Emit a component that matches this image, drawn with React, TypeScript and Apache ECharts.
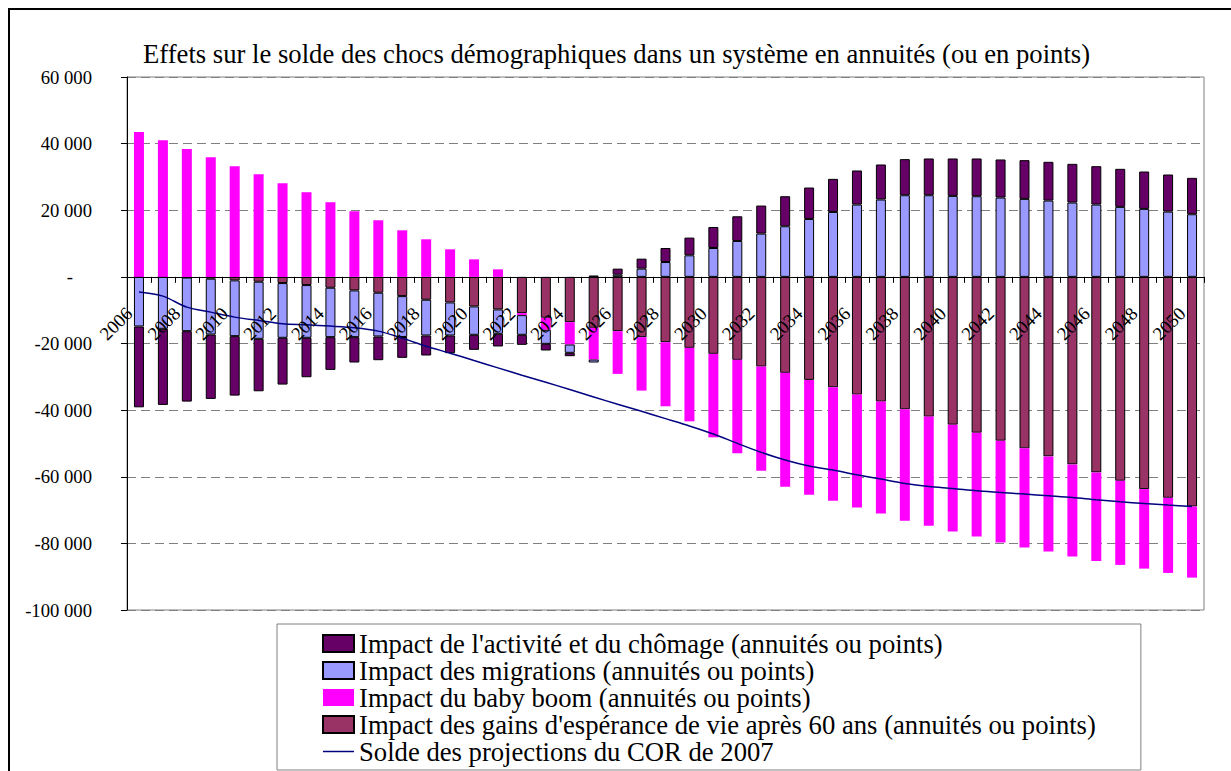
import React, { useEffect, useRef } from 'react';
import * as echarts from 'echarts';

const years = [
  '2006', '2007', '2008', '2009', '2010', '2011', '2012', '2013', '2014', '2015',
  '2016', '2017', '2018', '2019', '2020', '2021', '2022', '2023', '2024', '2025',
  '2026', '2027', '2028', '2029', '2030', '2031', '2032', '2033', '2034', '2035',
  '2036', '2037', '2038', '2039', '2040', '2041', '2042', '2043', '2044', '2045',
  '2046', '2047', '2048', '2049', '2050',
];

// Impact de l'activité et du chômage
const activite = [
  -24270, -22850, -21150, -19350, -17850, -15750, -14040, -11840, -9830, -7620,
  -7120, -6270, -6020, -5320, -4510, -3810, -3010, -2000, -1010, 400,
  1810, 3000, 4210, 5320, 6310, 7410, 8420, 9020, 9430, 9930,
  10230, 10520, 10830, 11030, 11230, 11330, 11430, 11630, 11630, 11620,
  11520, 11420, 11220, 11130, 10920,
];

// Impact des migrations
const migrations = [
  -14890, -15590, -16090, -16750, -16740, -17140, -16430, -15830, -14830, -14030,
  -13130, -12270, -10730, -9920, -8520, -7320, -5900, -4210, -2500, -900,
  660, 2470, 4460, 6470, 8670, 10780, 12990, 15190, 17390, 19490,
  21710, 23220, 24510, 24510, 24310, 24210, 23810, 23410, 22910, 22310,
  21710, 21010, 20410, 19600, 18800,
];

// Impact du baby boom
const babyBoom = [
  43460, 41050, 38350, 35940, 33230, 30830, 28120, 25410, 22410, 19700,
  16990, 13980, 11280, 8270, 5260, 2260, -610, -3610, -6710, -9520,
  -12830, -16050, -19240, -22060, -25070, -28070, -31280, -34200, -34490, -34090,
  -33890, -33590, -33480, -32790, -32090, -31180, -30580, -29770, -28570, -27670,
  -26560, -25260, -23860, -22550, -21350,
];

// Impact des gains d'espérance de vie après 60 ans
const gains = [
  0, 0, -200, -540, -1050, -1450, -1860, -2460, -3260, -4060,
  -4760, -5770, -6860, -7670, -8870, -9770, -10880, -12280, -13590, -15290,
  -16290, -18090, -19600, -21300, -23100, -24910, -26920, -28810, -30920, -33130,
  -35340, -37440, -39750, -41950, -44360, -46770, -49170, -51480, -53890, -56290,
  -58700, -61200, -63710, -66320, -68930,
];

// Solde des projections du COR de 2007
const solde = [
  -4570, -5770, -9080, -10580, -12080, -13080, -14080, -14380, -14780, -15280,
  -16290, -18390, -20810, -22910, -25110, -27310, -29520, -31620, -33830, -36040,
  -38240, -40340, -42550, -44750, -47160, -49970, -52680, -54980, -56790, -57990,
  -59400, -60700, -62000, -62910, -63510, -64210, -64710, -65210, -65710, -66220,
  -66920, -67520, -68020, -68510, -68930,
];

const yTicks = { min: -100000, max: 60000, interval: 20000 };

const names = {
  act: "Impact de l'activité et du chômage (annuités ou points)",
  mig: 'Impact des migrations (annuités ou points)',
  bb: 'Impact du baby boom (annuités ou points)',
  gains: "Impact des gains d'espérance de vie après 60 ans (annuités ou points)",
  solde: 'Solde des projections du COR de 2007',
};

const FONT = "'Liberation Serif', 'Times New Roman', serif";

function fmt(v: number): string {
  if (v === 0) return '{z|-}';
  const s = Math.abs(v).toString().replace(/\B(?=(\d{3})+(?!\d))/g, ' ');
  return (v < 0 ? '-' : '') + s;
}

export default function App() {
  const ref = useRef<HTMLDivElement>(null);
  useEffect(() => {
    const chart = echarts.init(ref.current!, null, { renderer: 'svg' });
    const barBase = { type: 'bar', stack: 'total', barWidth: 10, xAxisIndex: 0, yAxisIndex: 0 };
    chart.setOption({
      animation: false,
      backgroundColor: '#ffffff',
      title: {
        text: 'Effets sur le solde des chocs démographiques dans un système en annuités (ou en points)',
        left: 143,
        top: 40,
        padding: 0,
        textStyle: { fontFamily: FONT, fontSize: 26.67, fontWeight: 'normal', color: '#000' },
      },
      grid: [
        {
          left: 127,
          top: 77,
          right: 27,
          bottom: 161,
          show: true,
          borderColor: '#808080',
          borderWidth: 1,
          backgroundColor: 'transparent',
        },
        // helper grid whose bottom edge is the zero line, used to place the year labels
        { left: 127, top: 77, right: 27, bottom: 494.5, show: false },
      ],
      legend: {
        orient: 'vertical',
        left: 277,
        top: 624,
        padding: [6, 45, 5, 45],
        borderColor: '#808080',
        borderWidth: 1,
        itemWidth: 31,
        itemHeight: 17,
        itemGap: 0,
        textStyle: { fontFamily: FONT, fontSize: 26.67, color: '#000', lineHeight: 26.7 },
        data: [
          { name: names.act, icon: 'rect' },
          { name: names.mig, icon: 'rect' },
          { name: names.bb, icon: 'rect' },
          { name: names.gains, icon: 'rect' },
          {
            name: names.solde,
            icon: 'path://M0,0M31,17M0,7.75H31V9.25H0Z',
            itemStyle: { color: '#000080', borderWidth: 0 },
          },
        ],
      },
      xAxis: [
        {
          type: 'category',
          gridIndex: 0,
          data: years,
          boundaryGap: true,
          z: 8,
          axisLine: { onZero: true, lineStyle: { color: '#000', width: 1 } },
          axisTick: { show: true, interval: 0, length: 6, alignWithLabel: false, lineStyle: { color: '#000' } },
          axisLabel: { show: false },
          splitLine: { show: false },
        },
        {
          type: 'category',
          gridIndex: 1,
          position: 'bottom',
          data: years,
          boundaryGap: true,
          z: 10,
          axisLine: { show: false },
          axisTick: { show: false },
          axisLabel: {
            interval: 1,
            rotate: 45,
            margin: 24,
            padding: [0, 14, 0, 0],
            fontFamily: FONT,
            fontSize: 18.67,
            color: '#000',
          },
          splitLine: { show: false },
        },
      ],
      yAxis: [
        {
          type: 'value',
          gridIndex: 0,
          min: yTicks.min,
          max: yTicks.max,
          interval: yTicks.interval,
          axisLine: { show: true, lineStyle: { color: '#000', width: 1 } },
          axisTick: { show: true, length: 6, lineStyle: { color: '#000' } },
          axisLabel: {
            margin: 35,
            fontFamily: FONT,
            fontSize: 18.67,
            color: '#000',
            formatter: fmt,
            rich: { z: { fontFamily: FONT, fontSize: 18.67, color: '#000', padding: [0, 19, 0, 0] } },
          },
          splitLine: { show: true, lineStyle: { color: '#808080', width: 1, type: [9, 5] } },
        },
        { type: 'value', gridIndex: 1, show: false, min: 0, max: 1 },
      ],
      graphic: [
        {
          type: 'rect',
          silent: true,
          shape: { x: 9, y: 9, width: 1400, height: 1000 },
          style: { fill: 'none', stroke: '#000', lineWidth: 2 },
        },
      ],
      series: [
        { ...barBase, name: names.gains, data: gains, itemStyle: { color: '#993366', borderColor: '#000', borderWidth: 1 } },
        { ...barBase, name: names.bb, data: babyBoom, itemStyle: { color: '#FF00FF', borderWidth: 0 } },
        { ...barBase, name: names.mig, data: migrations, itemStyle: { color: '#9999FF', borderColor: '#000', borderWidth: 1 } },
        { ...barBase, name: names.act, data: activite, itemStyle: { color: '#660066', borderColor: '#000', borderWidth: 1 } },
        {
          type: 'line',
          name: names.solde,
          data: solde,
          xAxisIndex: 0,
          yAxisIndex: 0,
          symbol: 'none',
          smooth: 0.3,
          z: 5,
          lineStyle: { color: '#000080', width: 1.5 },
          itemStyle: { color: '#000080' },
        },
      ],
    });
    return () => chart.dispose();
  }, []);
  return (
    <div
      ref={ref}
      style={{ position: 'fixed', left: 0, top: 0, width: 1231, height: 771, background: '#fff' }}
    />
  );
}
